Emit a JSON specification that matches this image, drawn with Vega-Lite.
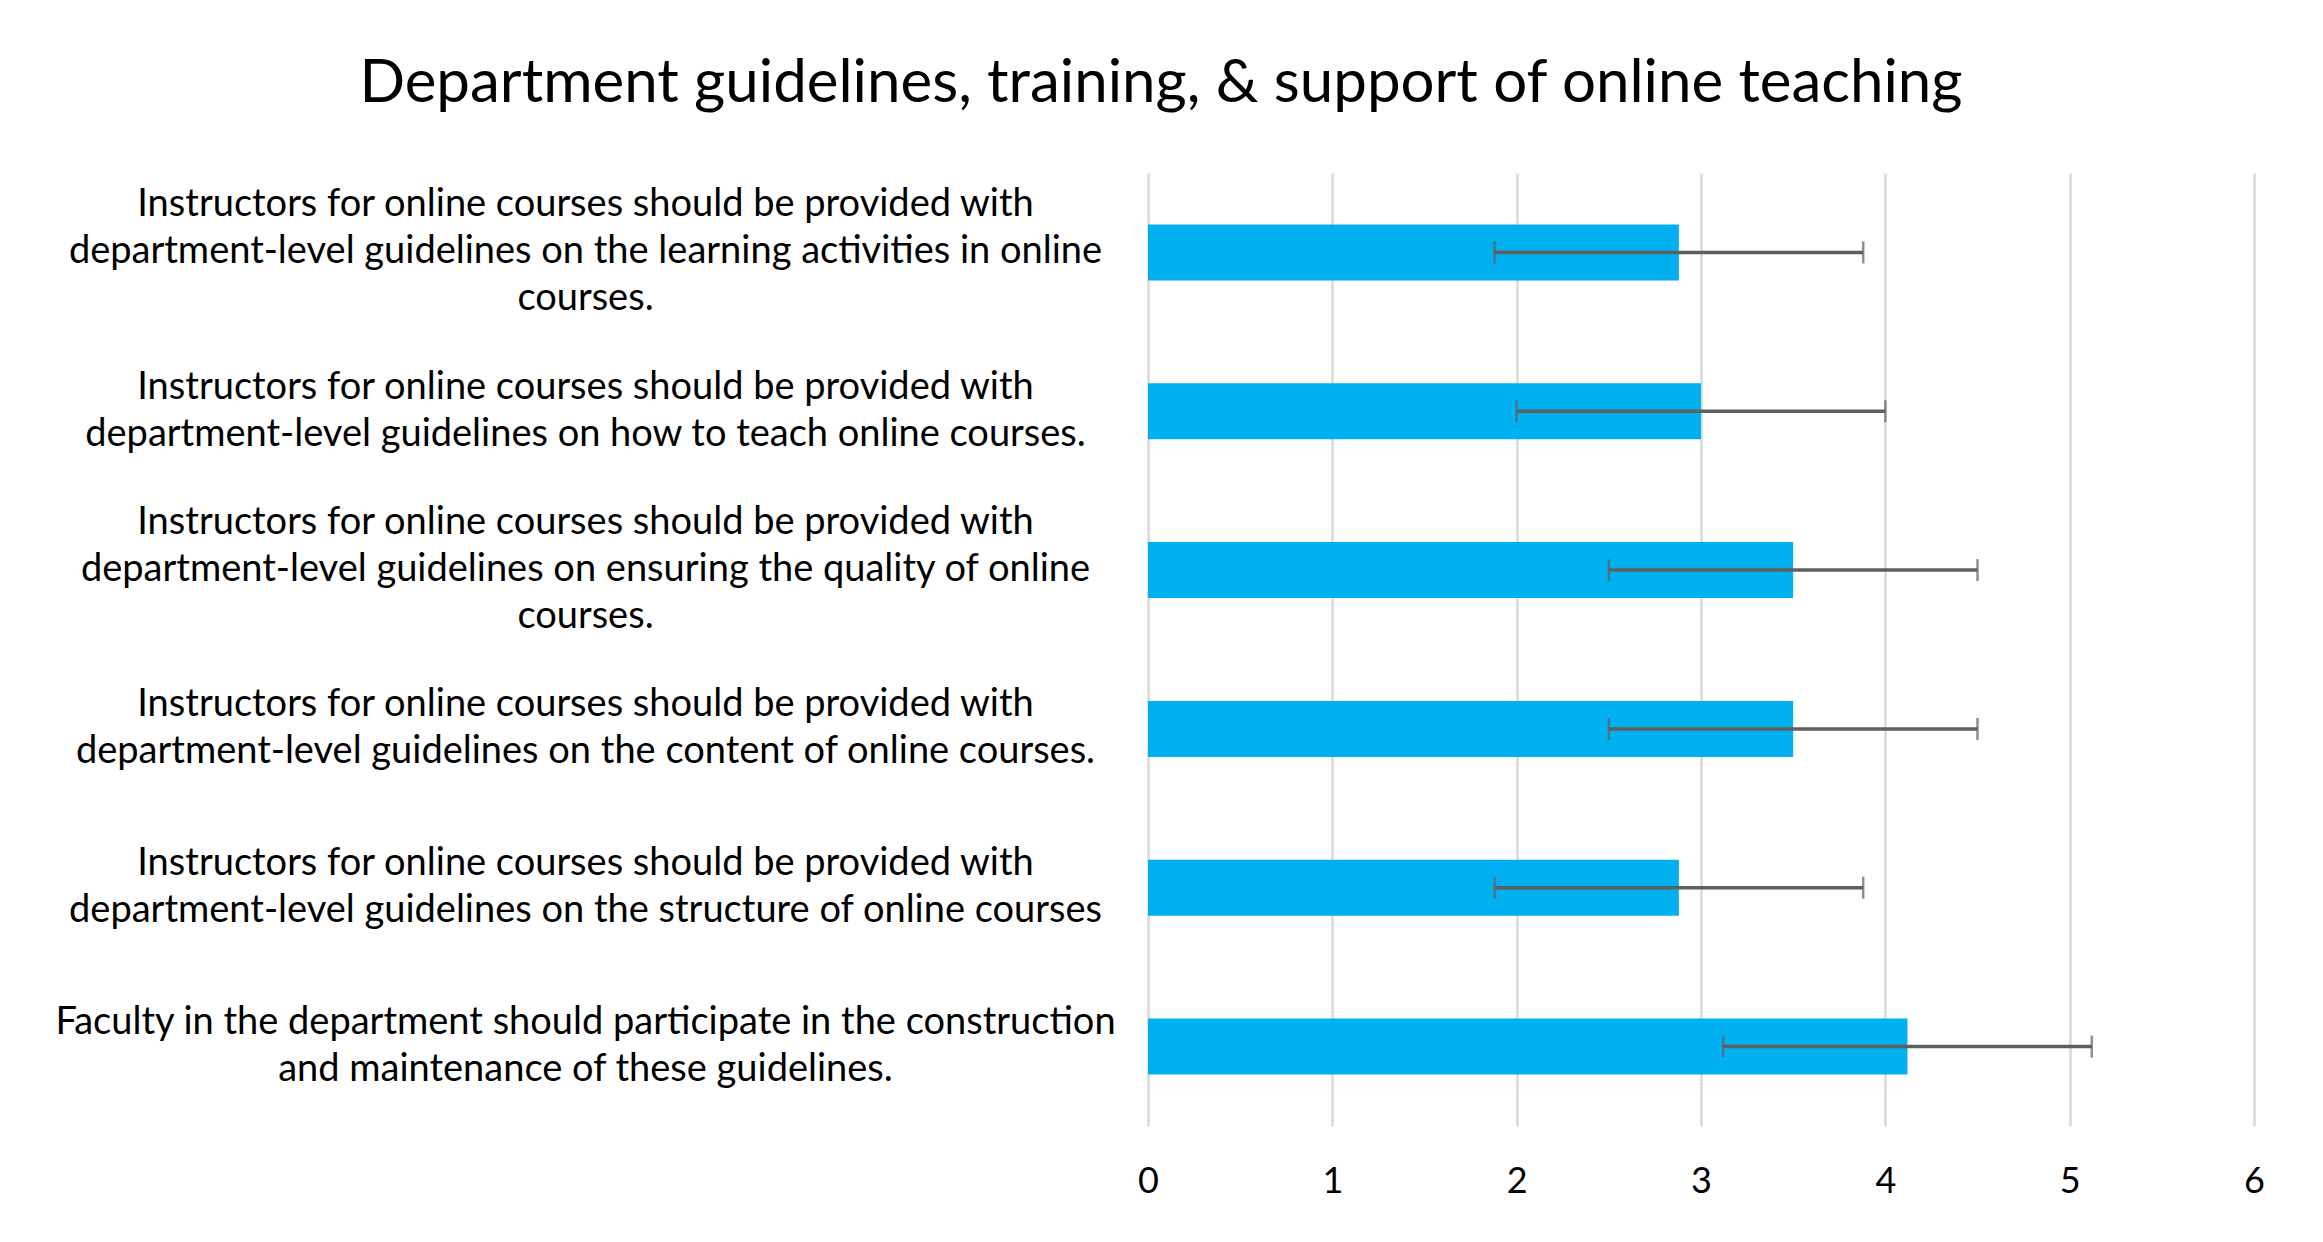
{
  "$schema": "https://vega.github.io/schema/vega-lite/v6.json",
  "autosize": "none",
  "width": 1106,
  "height": 953,
  "padding": {"left": 1148, "top": 173, "right": 69, "bottom": 116},
  "background": "white",
  "title": {
    "text": "Department guidelines, training, & support of online teaching",
    "font": "Lato",
    "fontSize": 60,
    "fontWeight": "normal",
    "color": "#000000",
    "anchor": "middle",
    "frame": "group",
    "dx": -540,
    "offset": 58
  },
  "data": {
    "values": [
      {"item": "Instructors for online courses should be provided with\ndepartment-level guidelines on the learning activities in online\ncourses.", "mean": 2.88, "lo": 1.88, "hi": 3.88},
      {"item": "Instructors for online courses should be provided with\ndepartment-level guidelines on how to teach online courses.", "mean": 3.0, "lo": 2.0, "hi": 4.0},
      {"item": "Instructors for online courses should be provided with\ndepartment-level guidelines on ensuring the quality of online\ncourses.", "mean": 3.5, "lo": 2.5, "hi": 4.5},
      {"item": "Instructors for online courses should be provided with\ndepartment-level guidelines on the content of online courses.", "mean": 3.5, "lo": 2.5, "hi": 4.5},
      {"item": "Instructors for online courses should be provided with\ndepartment-level guidelines on the structure of online courses", "mean": 2.88, "lo": 1.88, "hi": 3.88},
      {"item": "Faculty in the department should participate in the construction\nand maintenance of these guidelines.", "mean": 4.12, "lo": 3.12, "hi": 5.12}
    ]
  },
  "encoding": {
    "y": {
      "field": "item",
      "type": "nominal",
      "sort": null,
      "title": null,
      "scale": {"paddingInner": 0.647, "paddingOuter": 0.3235},
      "axis": {
        "labelExpr": "split(datum.label, '\\n')",
        "labelAlign": "center",
        "labelBaseline": "middle",
        "labelOffset": {"condition": {"test": "length(split(datum.label, '\\n')) == 3", "value": -47}, "value": -23.5},
        "labelPadding": 563,
        "labelLimit": 0,
        "labelFont": "Lato",
        "labelFontSize": 38,
        "labelLineHeight": 47,
        "labelColor": "#000000",
        "ticks": false,
        "domain": false,
        "grid": false
      }
    }
  },
  "layer": [
    {
      "mark": {"type": "bar", "color": "#00B0F0"},
      "encoding": {
        "x": {
          "field": "mean",
          "type": "quantitative",
          "title": null,
          "scale": {"domain": [0, 6], "nice": false},
          "axis": {
            "values": [0, 1, 2, 3, 4, 5, 6],
            "format": "d",
            "labelFlush": false,
            "grid": true,
            "gridColor": "#d9d9d9",
            "gridWidth": 2.5,
            "ticks": false,
            "domain": false,
            "labelFont": "Lato",
            "labelFontSize": 36,
            "labelColor": "#000000",
            "labelPadding": 38
          }
        }
      }
    },
    {
      "mark": {"type": "rule", "color": "#5f5f5f", "strokeWidth": 3.5},
      "encoding": {
        "x": {"field": "lo", "type": "quantitative"},
        "x2": {"field": "hi"}
      }
    },
    {
      "mark": {"type": "tick", "color": "#5f5f5f", "thickness": 2.5, "size": 22},
      "encoding": {"x": {"field": "lo", "type": "quantitative"}}
    },
    {
      "mark": {"type": "tick", "color": "#5f5f5f", "thickness": 2.5, "size": 22},
      "encoding": {"x": {"field": "hi", "type": "quantitative"}}
    }
  ],
  "config": {"view": {"stroke": null}}
}
